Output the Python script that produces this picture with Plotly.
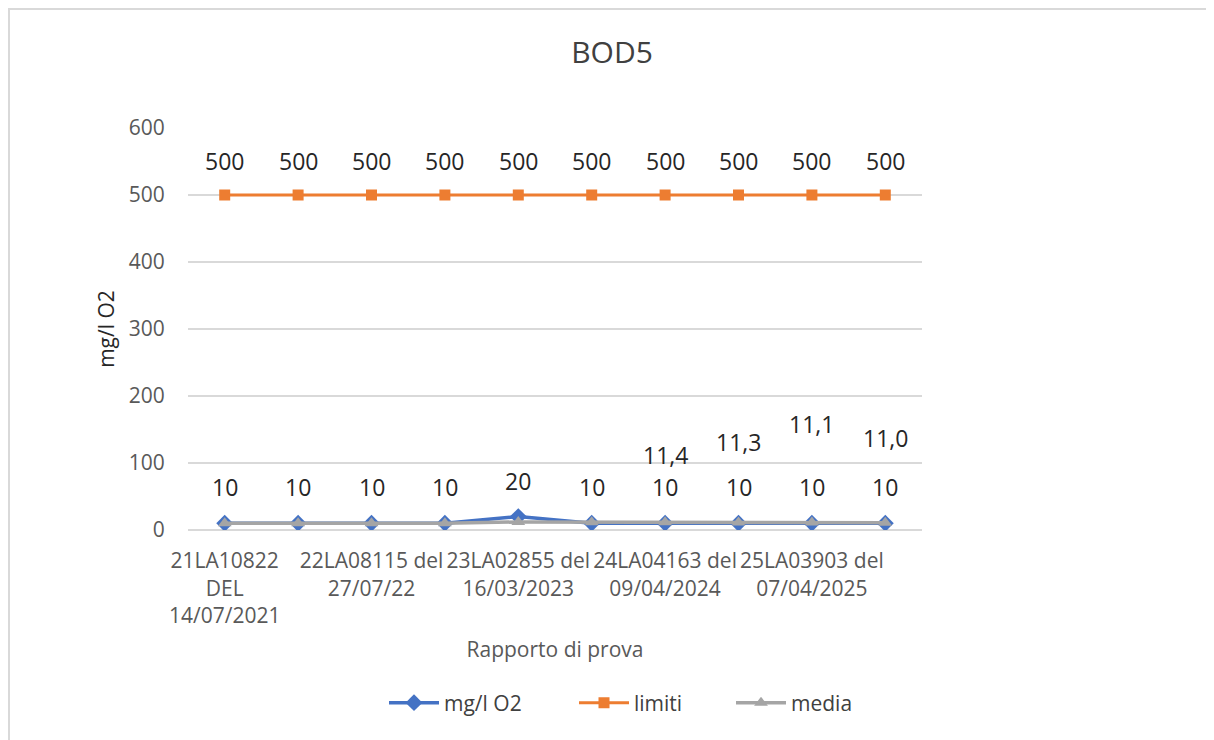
import plotly.graph_objects as go

# ---- data ----
x_index = [0, 1, 2, 3, 4, 5, 6, 7, 8, 9]
tick_positions = [0, 2, 4, 6, 8]
tick_labels = [
    "21LA10822<br>DEL<br>14/07/2021",
    "22LA08115 del<br>27/07/22",
    "23LA02855 del<br>16/03/2023",
    "24LA04163 del<br>09/04/2024",
    "25LA03903 del<br>07/04/2025",
]
mg_l_o2 = [10, 10, 10, 10, 20, 10, 10, 10, 10, 10]
limiti = [500, 500, 500, 500, 500, 500, 500, 500, 500, 500]
media = [10, 10, 10, 10, 12, 11.7, 11.4, 11.3, 11.1, 11.0]
media_label_idx = [6, 7, 8, 9]
media_label_shift = [67, 80, 99, 85]

BLUE = "#4472C4"
ORANGE = "#ED7D31"
GREY = "#A5A5A5"
FONT = "Open Sans"
TXT = "#595959"
LBL = "#262626"

OFF = 8  # page body margin


def fmt_int(v):
    return str(int(v))


def fmt_dec(v):
    return f"{v:.1f}".replace(".", ",")


fig = go.Figure()
fig.add_trace(go.Scatter(x=x_index, y=mg_l_o2, name="mg/l O2", mode="lines+markers",
                         line=dict(color=BLUE, width=3.5), legendwidth=125,
                         marker=dict(symbol="diamond", size=13, color=BLUE)))
fig.add_trace(go.Scatter(x=x_index, y=limiti, name="limiti", mode="lines+markers",
                         line=dict(color=ORANGE, width=3), legendwidth=92,
                         marker=dict(symbol="square", size=11, color=ORANGE)))
fig.add_trace(go.Scatter(x=x_index, y=media, name="media", mode="lines+markers",
                         line=dict(color=GREY, width=3.5), legendwidth=80,
                         marker=dict(symbol="triangle-up", size=12, color=GREY)))

ann = []
for xi, v in zip(x_index, mg_l_o2):
    ann.append(dict(x=xi, y=v, text=fmt_int(v), showarrow=False, yshift=36,
                    font=dict(family=FONT, size=23, color=LBL)))
for xi, v in zip(x_index, limiti):
    ann.append(dict(x=xi, y=v, text=fmt_int(v), showarrow=False, yshift=34,
                    font=dict(family=FONT, size=23, color=LBL)))
for i, s in zip(media_label_idx, media_label_shift):
    ann.append(dict(x=x_index[i], y=media[i], text=fmt_dec(media[i]),
                    showarrow=False, yshift=s,
                    font=dict(family=FONT, size=23, color=LBL)))

W, H = 1214 - OFF, 740 - OFF
L, R, T, B = 188 - OFF, 1214 - 922, 128 - OFF, 740 - 530
pw, ph = W - L - R, H - T - B


def px_x(p):
    return (p - OFF - L) / pw


def px_y(p):
    return (H - B - (p - OFF)) / ph


fig.update_layout(
    width=W, height=H,
    margin=dict(l=L, r=R, t=T, b=B),
    paper_bgcolor="white", plot_bgcolor="white",
    font=dict(family=FONT, color=TXT, size=20),
    title=dict(text="BOD5", x=(612 - OFF) / W, xanchor="center", xref="container",
               y=1 - (52 - OFF) / H, yanchor="middle", yref="container",
               font=dict(family=FONT, size=30, color="#404040")),
    showlegend=True,
    legend=dict(orientation="h", x=px_x(384), xanchor="left", y=px_y(703), yanchor="middle",
                font=dict(family=FONT, size=21, color="#404040"),
                itemwidth=50, bgcolor="rgba(0,0,0,0)"),
    annotations=ann,
    shapes=[dict(type="rect", xref="paper", yref="paper",
                 x0=px_x(9), x1=px_x(1212), y0=px_y(760), y1=px_y(9),
                 line=dict(color="#d9d9d9", width=2), layer="below")],
)
fig.update_xaxes(range=[-0.5, 9.5], tickmode="array", tickvals=tick_positions, ticktext=tick_labels,
                 showgrid=False, zeroline=False, showline=False,
                 ticks="outside", ticklen=12, tickcolor="rgba(0,0,0,0)",
                 tickfont=dict(family=FONT, size=21, color=TXT),
                 title=dict(text="Rapporto di prova", standoff=14,
                            font=dict(family=FONT, size=21, color=TXT)))
fig.update_yaxes(range=[0, 600], dtick=100, showgrid=True, gridcolor="#d9d9d9", gridwidth=1.5,
                 zeroline=True, zerolinecolor="#d9d9d9", zerolinewidth=1.5, showline=False,
                 ticks="outside", ticklen=18, tickcolor="rgba(0,0,0,0)",
                 tickfont=dict(family=FONT, size=21, color=TXT),
                 title=dict(text="mg/l O2", standoff=8,
                            font=dict(family=FONT, size=21, color="#262626")))

fig.write_html("out.html")
